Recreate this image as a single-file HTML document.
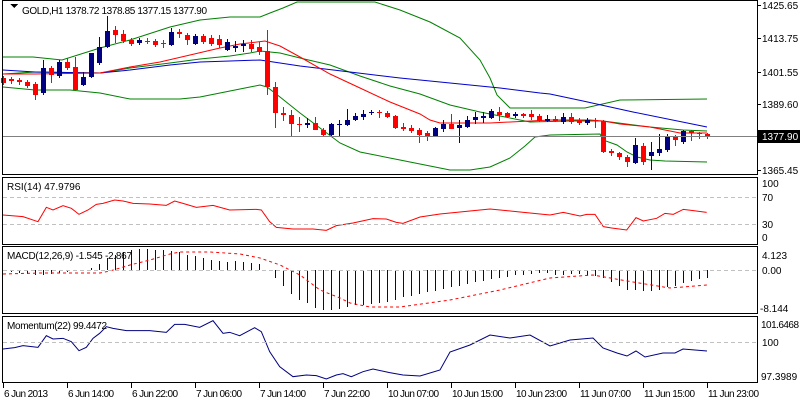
<!DOCTYPE html>
<html><head><meta charset="utf-8"><style>
html,body{margin:0;padding:0;background:#fff;width:800px;height:400px;overflow:hidden}
svg{display:block}
text{font-family:"Liberation Sans",sans-serif;font-size:10px;fill:#000}
</style></head><body>
<svg id="s" width="800" height="400" xmlns="http://www.w3.org/2000/svg" shape-rendering="crispEdges">
<rect x="0" y="0" width="800" height="400" fill="#fff"/>
<g id="g"></g>
<g fill="none" stroke="#000" stroke-width="1">
<rect x="2.5" y="0.5" width="755" height="174"/>
<rect x="2.5" y="177.5" width="755" height="67"/>
<rect x="2.5" y="246.5" width="755" height="67"/>
<rect x="2.5" y="316.5" width="755" height="66"/>
</g>
<g stroke="#c0c0c0" stroke-dasharray="4,3">
<line x1="3" y1="197.5" x2="757" y2="197.5"/>
<line x1="3" y1="224.5" x2="757" y2="224.5"/>
<line x1="3" y1="270.5" x2="757" y2="270.5"/>
<line x1="3" y1="342.5" x2="757" y2="342.5"/>
</g>
<line x1="3" y1="136.5" x2="757" y2="136.5" stroke="#808080"/>
<path d="M10,4 l8,0 l-4,4z" fill="#000"/>
<text x="22" y="14" textLength="185">GOLD,H1  1378.72 1378.85 1377.15 1377.90</text>
<text x="7" y="190">RSI(14) 47.9796</text>
<text x="7" y="259" textLength="125">MACD(12,26,9) -1.545 -2.867</text>
<text x="7" y="329" textLength="100">Momentum(22) 99.4472</text>
<g>
<text x="762" y="9">1425.65</text>
<text x="762" y="42">1413.75</text>
<text x="762" y="76">1401.55</text>
<text x="762" y="108">1389.60</text>
<rect x="757" y="130" width="43" height="13" fill="#000"/>
<text x="762" y="140" style="fill:#fff">1377.90</text>
<text x="762" y="174">1365.45</text>
<text x="762" y="187">100</text>
<text x="762" y="201">70</text>
<text x="762" y="228">30</text>
<text x="762" y="241">0</text>
<text x="762" y="259">4.123</text>
<text x="762" y="274">0.00</text>
<text x="760" y="312">-8.144</text>
<text x="761" y="328" textLength="38">101.6468</text>
<text x="762" y="346">100</text>
<text x="761" y="380">97.3989</text>
</g>
<g stroke="#000">
<line x1="757" y1="5.5" x2="761" y2="5.5"/><line x1="757" y1="38.5" x2="761" y2="38.5"/>
<line x1="757" y1="72.5" x2="761" y2="72.5"/><line x1="757" y1="104.5" x2="761" y2="104.5"/>
<line x1="757" y1="170.5" x2="761" y2="170.5"/>
</g>
<g id="xl"></g>
</svg>
<script>
var g=document.getElementById('g'),NS='http://www.w3.org/2000/svg';
function el(t,a){var e=document.createElementNS(NS,t);for(var k in a)e.setAttribute(k,a[k]);g.appendChild(e);return e;}
function pl(pts,c,extra){var a={points:pts,fill:'none',stroke:c,'stroke-width':1,'shape-rendering':'auto'};for(var k in extra)a[k]=extra[k];el('polyline',a);}
pl("3,57 33,57 62,60 100,48 130,40 170,27 200,20 230,17 260,17 270,13 283,8 297,2 375,2 400,10 430,22 460,38 480,60 490,78 497,95 510,108 530,108 585,108 620,100 707,99","#008000");
pl("3,74 35,72 100,73 130,68 170,63 200,59 230,56 250,53 260,51 280,53 300,58 330,65 360,76 390,86 420,94 450,105 480,112 500,116 530,122 570,121 603,121 650,127 683,130 707,131","#008000");
pl("3,87 35,90 70,90 100,93 130,99 180,99 200,97 230,91 250,87 260,85 267,87 280,97 300,113 320,128 340,143 360,152 400,160 430,166 450,170 470,170 490,167 510,158 525,146 535,137 550,135 600,134 603,140 617,145 627,152 637,157 650,160 665,161 707,162","#008000");
pl("3,70 35,72 100,73 130,70 170,65 200,62 230,61 260,60 280,63 300,66 350,72 400,78 450,83 500,88 540,93 550,94 583,101 633,112 707,127","#0000cc");
pl("3,74 35,74 100,73 130,67 160,62 190,55 220,48 240,44 265,41 280,46 300,57 330,74 360,88 390,102 420,114 430,120 440,123 490,123 550,120 590,120 603,121 620,124 650,127 680,133 707,133","#ff0000");
var C=[[3,'r',78,83,76,85],[11,'r',79,81,77,84],[19,'r',80,82,78,85],[27,'r',82,86,80,88],[35,'r',84,95,82,100],[43,'b',68,93,60,95],[51,'r',68,75,66,83],[59,'b',62,76,60,78],[67,'r',62,68,58,70],[75,'r',67,90,57,90],[83,'b',77,85,72,86],[91,'b',53,77,53,78],[99,'b',47,63,37,65],[107,'b',31,47,16,48],[115,'r',30,35,26,43],[123,'r',34,41,30,43],[131,'r',40,44,38,46],[139,'b',40,43,38,45],[147,'r',41,42,38,44],[155,'r',41,45,39,47],[163,'r',43,44,40,48],[171,'b',32,45,28,46],[179,'r',32,34,29,38],[187,'r',35,40,33,45],[195,'b',36,44,34,45],[203,'r',36,42,34,44],[211,'r',38,44,35,46],[219,'r',39,45,35,48],[227,'b',42,50,39,51],[235,'b',46,48,41,52],[243,'b',44,46,40,52],[251,'r',44,49,40,52],[259,'r',47,52,42,55],[267,'r',51,87,30,95],[275,'r',87,113,82,128],[283,'r',113,115,107,121],[291,'r',115,124,110,137],[299,'r',124,125,117,132],[307,'b',123,125,118,128],[315,'r',123,130,117,130],[323,'r',130,135,128,137],[331,'b',124,135,123,136],[339,'b',124,125,120,137],[347,'b',120,125,109,126],[355,'b',116,120,113,121],[363,'b',114,117,110,120],[371,'b',112,113,110,115],[379,'r',112,113,110,118],[387,'r',113,117,111,118],[395,'r',116,128,115,129],[403,'r',127,129,123,131],[411,'r',128,131,125,133],[419,'r',130,135,128,143],[427,'r',133,137,131,141],[435,'b',128,136,127,137],[443,'b',124,129,120,132],[451,'r',124,129,114,129],[459,'b',125,128,120,143],[467,'b',120,127,116,128],[475,'b',117,120,112,124],[483,'b',116,118,112,123],[491,'b',111,118,109,119],[499,'r',112,115,107,121],[507,'r',113,117,112,118],[515,'b',114,116,112,118],[523,'r',114,116,113,118],[531,'r',114,117,110,120],[539,'r',116,121,114,122],[547,'b',119,121,115,122],[555,'r',119,121,116,122],[563,'b',117,122,113,124],[571,'r',117,122,113,124],[579,'r',120,123,118,125],[587,'b',120,123,118,125],[595,'r',120,121,118,128],[603,'r',121,152,120,153],[611,'r',151,153,149,156],[619,'r',153,157,152,160],[627,'r',157,162,155,167],[635,'b',145,163,138,164],[643,'r',146,162,143,165],[651,'b',152,156,142,170],[659,'b',149,153,134,156],[667,'b',137,150,134,152],[675,'r',137,140,135,146],[683,'b',131,142,130,144],[691,'r',131,133,130,141],[699,'r',133,134,132,139],[707,'r',134,137,133,139]];
C.forEach(function(c){var col=c[1]=='r'?'#ff0000':'#000080';
el('rect',{x:c[0],y:c[4],width:1,height:c[5]-c[4],fill:col});
el('rect',{x:c[0]-2,y:c[2],width:5,height:Math.max(1,c[3]-c[2]),fill:col});});
var r4=[[0,120],[60,125],[105,140],[130,97],[150,105],[180,92],[205,100],[228,118],[255,105],[280,88],[300,85],[335,75],[360,78],[390,85],[440,87],[490,91],[515,78],[540,85],[580,97],[630,91],[680,105],[760,103],[775,105],[800,140],[820,157],[870,162],[930,162],[970,166],[1000,152],[1050,144],[1110,131],[1150,132],[1180,142],[1200,145]].map(function(p){return (3+p[0]/3)+','+(175+p[1]/3)}).join(' ');
r4+=" 420,217 440,214 470,211 490,209 520,212 550,215";
r4+=" "+[[40,397],[90,408],[110,403],[135,403],[160,440],[185,444],[230,450],[258,413],[280,423],[320,415],[345,400],[370,403],[400,388],[430,392],[470,397]].map(function(p){return (550+p[0]/3)+','+(80+p[1]/3)}).join(' ');
pl(r4,"#ff0000");
var H=[[11,272],[19,273],[27,274],[35,275],[43,275],[51,274],[59,273],[67,272],[75,271],[83,271],[91,268],[99,264],[107,258],[115,255],[123,252],[131,250],[139,249],[147,249],[155,250],[163,250],[171,251],[179,252],[187,255],[195,256],[203,258],[211,260],[219,261],[227,262],[235,261],[243,262],[251,263],[259,264],[267,270],[275,278],[283,286],[291,294],[299,300],[307,303],[315,308],[323,310],[331,310],[339,309],[347,307],[355,305],[363,305],[371,304],[379,303],[387,302],[395,300],[403,297],[411,296],[419,294],[427,292],[435,291],[443,289],[451,287],[459,286],[467,284],[475,282],[483,281],[491,279],[499,278],[507,277],[515,275],[523,275],[531,274],[539,273],[547,273],[555,275],[563,275],[571,274],[579,274],[587,275],[595,276],[603,278],[611,282],[619,286],[627,290],[635,290],[643,291],[651,291],[659,290],[667,287],[675,286],[683,283],[691,281],[699,279],[707,278]];
H.forEach(function(h){var a=Math.min(270,h[1]),b=Math.max(270,h[1]);if(b-a>0)el('rect',{x:h[0],y:a,width:1,height:b-a,fill:'#000080'});});
pl("3,274 40,273 100,273 110,271 130,265 150,260 170,254 180,252 210,252 240,254 260,258 280,265 300,275 320,290 340,298 350,303 370,307 400,307 450,300 500,290 550,278 593,275 633,282 670,288 707,285","#ff0000",{'stroke-dasharray':'3,3'});
var m=[[0,522],[35,518],[60,512],[105,517],[130,482],[150,492],[180,490],[205,500],[228,527],[250,517],[270,490],[290,475],[310,455],[330,460],[370,467],[440,467],[490,472],[515,448],[545,448],[590,457],[630,437],[660,475],[680,472],[710,482],[755,458],[775,470],[800,530],[830,575],[870,605],[910,600],[940,602],[970,612],[1000,600],[1020,596],[1045,605],[1080,590],[1110,582],[1160,593],[1200,600]].map(function(p){return (3+p[0]/3)+','+(175+p[1]/3)}).join(' ');
m+=" 420,376 440,370 450,352 470,345 490,335 510,338 530,335 550,346 570,340 593,338 603,348 617,353 627,356 636,351 645,357 663,353 675,353 683,349 707,351";
pl(m,"#000080");
var xl=document.getElementById('xl');
[[3,'6 Jun 2013',44],[67,'6 Jun 14:00',46],[131,'6 Jun 22:00',46],[195,'7 Jun 06:00',46],[259,'7 Jun 14:00',46],[323,'7 Jun 22:00',46],[387,'10 Jun 07:00',51],[451,'10 Jun 15:00',51],[515,'10 Jun 23:00',51],[579,'11 Jun 07:00',51],[643,'11 Jun 15:00',51],[707,'11 Jun 23:00',51]].forEach(function(l){
var t=document.createElementNS(NS,'line');t.setAttribute('x1',l[0]+.5);t.setAttribute('x2',l[0]+.5);t.setAttribute('y1',383);t.setAttribute('y2',388);t.setAttribute('stroke','#000');xl.appendChild(t);
var x=document.createElementNS(NS,'text');x.setAttribute('x',l[0]+1);x.setAttribute('y',397);x.setAttribute('textLength',l[2]);x.textContent=l[1];xl.appendChild(x);});
</script>
</body></html>
